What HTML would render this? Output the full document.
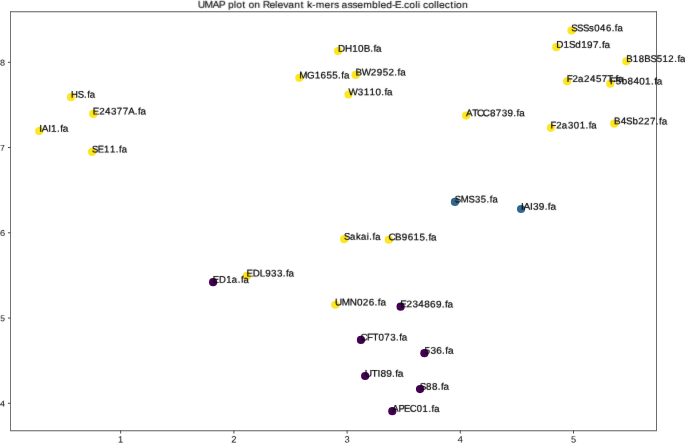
<!DOCTYPE html><html><head><meta charset="utf-8"><style>html,body{margin:0;padding:0;background:#fff;width:685px;height:443px;overflow:hidden}svg{display:block;will-change:transform}text{font-family:"Liberation Sans",sans-serif}</style></head><body>
<svg width="685" height="443" viewBox="0 0 685 443" text-rendering="geometricPrecision">
<defs><filter id="b" filterUnits="userSpaceOnUse" x="0" y="0" width="685" height="443" color-interpolation-filters="sRGB"><feConvolveMatrix order="3" kernelMatrix="0.008 0.05 0.008 0.05 0.768 0.05 0.008 0.05 0.008" divisor="1"/></filter></defs>
<rect width="685" height="443" fill="#fff"/>
<circle cx="571.45" cy="30.6" r="4.1" fill="#fde725"/>
<circle cx="556.3" cy="47.2" r="4.1" fill="#fde725"/>
<circle cx="626.3" cy="61.3" r="4.1" fill="#fde725"/>
<circle cx="567.15" cy="81.35" r="4.1" fill="#fde725"/>
<circle cx="610.3" cy="83.7" r="4.1" fill="#fde725"/>
<circle cx="550.85" cy="127.8" r="4.1" fill="#fde725"/>
<circle cx="614.2" cy="123.7" r="4.1" fill="#fde725"/>
<circle cx="466.1" cy="115.6" r="4.1" fill="#fde725"/>
<circle cx="338.0" cy="51.05" r="4.1" fill="#fde725"/>
<circle cx="355.6" cy="74.9" r="4.1" fill="#fde725"/>
<circle cx="299.35" cy="77.8" r="4.1" fill="#fde725"/>
<circle cx="348.5" cy="94.5" r="4.1" fill="#fde725"/>
<circle cx="71.0" cy="97.2" r="4.1" fill="#fde725"/>
<circle cx="93.2" cy="113.9" r="4.1" fill="#fde725"/>
<circle cx="39.2" cy="131.1" r="4.1" fill="#fde725"/>
<circle cx="92.1" cy="151.9" r="4.1" fill="#fde725"/>
<circle cx="344.2" cy="239.2" r="4.1" fill="#fde725"/>
<circle cx="388.8" cy="239.7" r="4.1" fill="#fde725"/>
<circle cx="246.9" cy="275.9" r="4.1" fill="#fde725"/>
<circle cx="335.25" cy="304.75" r="4.1" fill="#fde725"/>
<circle cx="454.95" cy="201.9" r="4.1" fill="#31688e"/>
<circle cx="521.05" cy="209.0" r="4.1" fill="#31688e"/>
<circle cx="213.1" cy="282.2" r="4.1" fill="#440154"/>
<circle cx="400.6" cy="306.7" r="4.1" fill="#440154"/>
<circle cx="360.95" cy="339.9" r="4.1" fill="#440154"/>
<circle cx="424.4" cy="353.2" r="4.1" fill="#440154"/>
<circle cx="365.15" cy="376.0" r="4.1" fill="#440154"/>
<circle cx="420.05" cy="389.05" r="4.1" fill="#440154"/>
<circle cx="392.3" cy="411.2" r="4.1" fill="#440154"/>
<rect x="10" y="11" width="647" height="1" fill="#878787"/>
<rect x="10" y="12" width="647" height="1" fill="#d4d4d4"/>
<rect x="10" y="430" width="647" height="1" fill="#878787"/>
<rect x="10" y="431" width="647" height="1" fill="#d4d4d4"/>
<rect x="10" y="11" width="1" height="420" fill="#737373"/>
<rect x="656" y="11" width="1" height="420" fill="#6b6b6b"/>
<line x1="120.65" y1="430.5" x2="120.65" y2="433.5" stroke="#3a3a3a" stroke-width="0.9"/>
<line x1="233.9" y1="430.5" x2="233.9" y2="433.5" stroke="#3a3a3a" stroke-width="0.9"/>
<line x1="347.1" y1="430.5" x2="347.1" y2="433.5" stroke="#3a3a3a" stroke-width="0.9"/>
<line x1="460.3" y1="430.5" x2="460.3" y2="433.5" stroke="#3a3a3a" stroke-width="0.9"/>
<line x1="573.5" y1="430.5" x2="573.5" y2="433.5" stroke="#3a3a3a" stroke-width="0.9"/>
<line x1="10.5" y1="62.3" x2="7.9" y2="62.3" stroke="#3a3a3a" stroke-width="0.9"/>
<line x1="10.5" y1="147.55" x2="7.9" y2="147.55" stroke="#3a3a3a" stroke-width="0.9"/>
<line x1="10.5" y1="232.8" x2="7.9" y2="232.8" stroke="#3a3a3a" stroke-width="0.9"/>
<line x1="10.5" y1="318.05" x2="7.9" y2="318.05" stroke="#3a3a3a" stroke-width="0.9"/>
<line x1="10.5" y1="403.3" x2="7.9" y2="403.3" stroke="#3a3a3a" stroke-width="0.9"/>
<g filter="url(#b)" fill="#000">
<text transform="translate(117.85 442.50) rotate(0.05) scale(1.0059 1)" x="0.16" font-size="9.25">1</text>
<text transform="translate(231.10 442.50) rotate(0.05) scale(1.0143 1)" x="0.07" font-size="9.25">2</text>
<text transform="translate(344.30 442.50) rotate(0.05) scale(1.0116 1)" x="0.21" font-size="9.25">3</text>
<text transform="translate(457.50 442.50) rotate(0.05) scale(1.0524 1)" x="0.09" font-size="9.25">4</text>
<text transform="translate(570.70 442.50) rotate(0.05) scale(0.9947 1)" x="0.21" font-size="9.25">5</text>
<text transform="translate(-0.05 65.50) rotate(0.05) scale(1.0645 1)" x="0.06" font-size="8.5">8</text>
<text transform="translate(-0.05 150.75) rotate(0.05) scale(1.0314 1)" x="0.12" font-size="8.5">7</text>
<text transform="translate(-0.05 236.00) rotate(0.05) scale(1.0917 1)" x="-0.01" font-size="8.5">6</text>
<text transform="translate(-0.05 321.25) rotate(0.05) scale(0.9964 1)" x="0.19" font-size="8.5">5</text>
<text transform="translate(-0.05 406.50) rotate(0.05) scale(1.0542 1)" x="0.08" font-size="8.5">4</text>
<text transform="translate(198.19 7.80) rotate(0.05) scale(1.0532 1)" x="-0.27 6.22 13.84 19.66 25.41 28.36 33.96 36.26 42.00 45.11 47.91 53.42 58.89 61.39 67.85 73.00 75.33 80.91 85.61 91.46 97.28 100.39 103.38 108.27 111.76 120.10 125.85 129.05 133.71 136.18 141.85 146.44 151.13 156.80 165.26 170.86 173.19 178.63 184.16 186.87 192.98 195.62 200.58 206.12 208.57 210.87 213.57 218.53 224.07 226.52 228.85 234.13 239.44 242.69 245.00 250.51" font-size="9.7" stroke="#000" stroke-width="0.095">UMAP plot on Relevant k-mers assembled-E.coli collection</text>
<text transform="translate(571.45 31.25) rotate(0.05) scale(0.9844 1)" x="-0.21 5.75 11.71 17.96 23.05 29.02 35.00 40.82 44.09 46.80" font-size="9.7" stroke="#000" stroke-width="0.203">SSSs046.fa</text>
<text transform="translate(556.30 47.85) rotate(0.05) scale(1.0229 1)" x="-0.01 7.08 12.38 18.55 24.30 30.06 35.82 41.49 44.64 47.19" font-size="9.7" stroke="#000" stroke-width="0.196">D1Sd197.fa</text>
<text transform="translate(626.30 61.95) rotate(0.05) scale(0.9975 1)" x="-0.07 6.56 12.50 18.07 24.25 30.43 36.31 42.13 48.02 51.24 53.90" font-size="9.7" stroke="#000" stroke-width="0.201">B18BS512.fa</text>
<text transform="translate(567.15 82.00) rotate(0.05) scale(1.0044 1)" x="-0.34 5.40 10.92 16.89 22.86 28.68 34.55 40.05 45.92 48.04 50.66" font-size="9.7" stroke="#000" stroke-width="0.199">F2a2457T.fa</text>
<text transform="translate(610.30 84.35) rotate(0.05) scale(1.0223 1)" x="-0.39 5.34 11.17 16.86 22.61 28.37 34.07 39.77 42.92 45.48" font-size="9.7" stroke="#000" stroke-width="0.196">F5b8401.fa</text>
<text transform="translate(550.85 128.45) rotate(0.05) scale(0.9889 1)" x="-0.29 5.52 11.14 17.33 23.26 29.16 35.01 38.27 40.96" font-size="9.7" stroke="#000" stroke-width="0.202">F2a301.fa</text>
<text transform="translate(614.20 124.35) rotate(0.05) scale(1.0132 1)" x="-0.12 6.46 11.76 18.10 23.72 29.52 35.42 41.14 44.32 46.90" font-size="9.7" stroke="#000" stroke-width="0.197">B4Sb227.fa</text>
<text transform="translate(466.10 116.25) rotate(0.05) scale(1.0184 1)" x="-0.13 6.02 10.66 16.46 23.37 29.13 34.93 40.66 46.36 49.53 52.09" font-size="9.7" stroke="#000" stroke-width="0.196">ATCC8739.fa</text>
<text transform="translate(338.00 51.70) rotate(0.05) scale(1.0204 1)" x="-0.00 6.87 13.92 19.73 25.16 31.60 34.76 37.32" font-size="9.7" stroke="#000" stroke-width="0.196">DH10B.fa</text>
<text transform="translate(355.60 75.55) rotate(0.05) scale(1.0155 1)" x="-0.13 6.16 14.99 20.87 26.65 32.36 38.17 41.34 43.91" font-size="9.7" stroke="#000" stroke-width="0.197">BW2952.fa</text>
<text transform="translate(299.35 78.45) rotate(0.05) scale(1.0153 1)" x="-0.11 7.61 15.05 20.89 26.65 32.44 38.16 41.33 43.91" font-size="9.7" stroke="#000" stroke-width="0.197">MG1655.fa</text>
<text transform="translate(348.50 95.15) rotate(0.05) scale(1.0179 1)" x="-0.09 9.18 14.89 20.67 26.49 32.17 35.33 37.90" font-size="9.7" stroke="#000" stroke-width="0.196">W3110.fa</text>
<text transform="translate(71.00 97.85) rotate(0.05) scale(0.9868 1)" x="0.01 6.83 13.12 16.39 19.08" font-size="9.7" stroke="#000" stroke-width="0.203">HS.fa</text>
<text transform="translate(93.20 114.55) rotate(0.05) scale(1.0090 1)" x="-0.37 5.88 11.82 17.66 23.46 29.29 34.81 41.28 44.31 46.92" font-size="9.7" stroke="#000" stroke-width="0.198">E24377A.fa</text>
<text transform="translate(39.20 131.75) rotate(0.05) scale(1.0262 1)" x="-0.02 2.50 8.80 11.59 17.28 20.41 22.95" font-size="9.7" stroke="#000" stroke-width="0.195">IAI1.fa</text>
<text transform="translate(92.10 152.55) rotate(0.05) scale(0.9687 1)" x="-0.16 5.81 12.37 18.44 24.38 27.71 30.49" font-size="9.7" stroke="#000" stroke-width="0.206">SE11.fa</text>
<text transform="translate(344.20 239.85) rotate(0.05) scale(0.9752 1)" x="-0.18 5.87 12.23 17.16 23.19 25.73 29.04 31.78" font-size="9.7" stroke="#000" stroke-width="0.205">Sakai.fa</text>
<text transform="translate(388.80 240.35) rotate(0.05) scale(1.0162 1)" x="-0.38 6.21 12.75 18.56 24.30 30.10 35.82 38.99 41.56" font-size="9.7" stroke="#000" stroke-width="0.197">CB9615.fa</text>
<text transform="translate(246.90 276.55) rotate(0.05) scale(1.0139 1)" x="-0.39 5.78 12.80 18.02 23.86 29.66 35.34 38.52 41.10" font-size="9.7" stroke="#000" stroke-width="0.197">EDL933.fa</text>
<text transform="translate(335.25 305.40) rotate(0.05) scale(1.0233 1)" x="-0.20 6.47 14.27 21.33 26.95 32.82 38.47 41.62 44.16" font-size="9.7" stroke="#000" stroke-width="0.195">UMN026.fa</text>
<text transform="translate(454.95 202.55) rotate(0.05) scale(0.9771 1)" x="-0.19 6.04 13.98 20.48 26.45 32.35 35.64 38.38" font-size="9.7" stroke="#000" stroke-width="0.205">SMS35.fa</text>
<text transform="translate(521.05 209.65) rotate(0.05) scale(1.0378 1)" x="-0.04 2.44 8.68 11.49 17.11 22.74 25.84 28.33" font-size="9.7" stroke="#000" stroke-width="0.193">IAI39.fa</text>
<text transform="translate(213.10 282.85) rotate(0.05) scale(0.9792 1)" x="-0.28 6.11 13.49 19.08 25.16 28.45 31.18" font-size="9.7" stroke="#000" stroke-width="0.204">ED1a.fa</text>
<text transform="translate(400.60 307.35) rotate(0.05) scale(1.0283 1)" x="-0.43 5.72 11.57 17.27 22.99 28.71 34.39 40.06 43.19 45.72" font-size="9.7" stroke="#000" stroke-width="0.195">E234869.fa</text>
<text transform="translate(360.95 340.55) rotate(0.05) scale(1.0052 1)" x="-0.35 6.08 11.55 17.38 23.21 29.09 34.81 38.01 40.64" font-size="9.7" stroke="#000" stroke-width="0.199">CFT073.fa</text>
<text transform="translate(424.40 353.85) rotate(0.05) scale(1.0370 1)" x="0.10 5.82 11.47 17.07 20.17 22.67" font-size="9.7" stroke="#000" stroke-width="0.193">536.fa</text>
<text transform="translate(365.15 376.65) rotate(0.05) scale(1.0513 1)" x="-0.28 6.16 11.75 14.49 20.05 25.62 28.68 31.12" font-size="9.7" stroke="#000" stroke-width="0.190">UTI89.fa</text>
<text transform="translate(420.05 389.70) rotate(0.05) scale(1.0153 1)" x="-0.30 5.97 11.76 17.45 20.62 23.20" font-size="9.7" stroke="#000" stroke-width="0.197">S88.fa</text>
<text transform="translate(392.30 411.85) rotate(0.05) scale(0.9747 1)" x="0.01 6.27 11.93 17.94 25.13 31.12 37.03 40.33 43.08" font-size="9.7" stroke="#000" stroke-width="0.205">APEC01.fa</text>
</g>
</svg></body></html>
